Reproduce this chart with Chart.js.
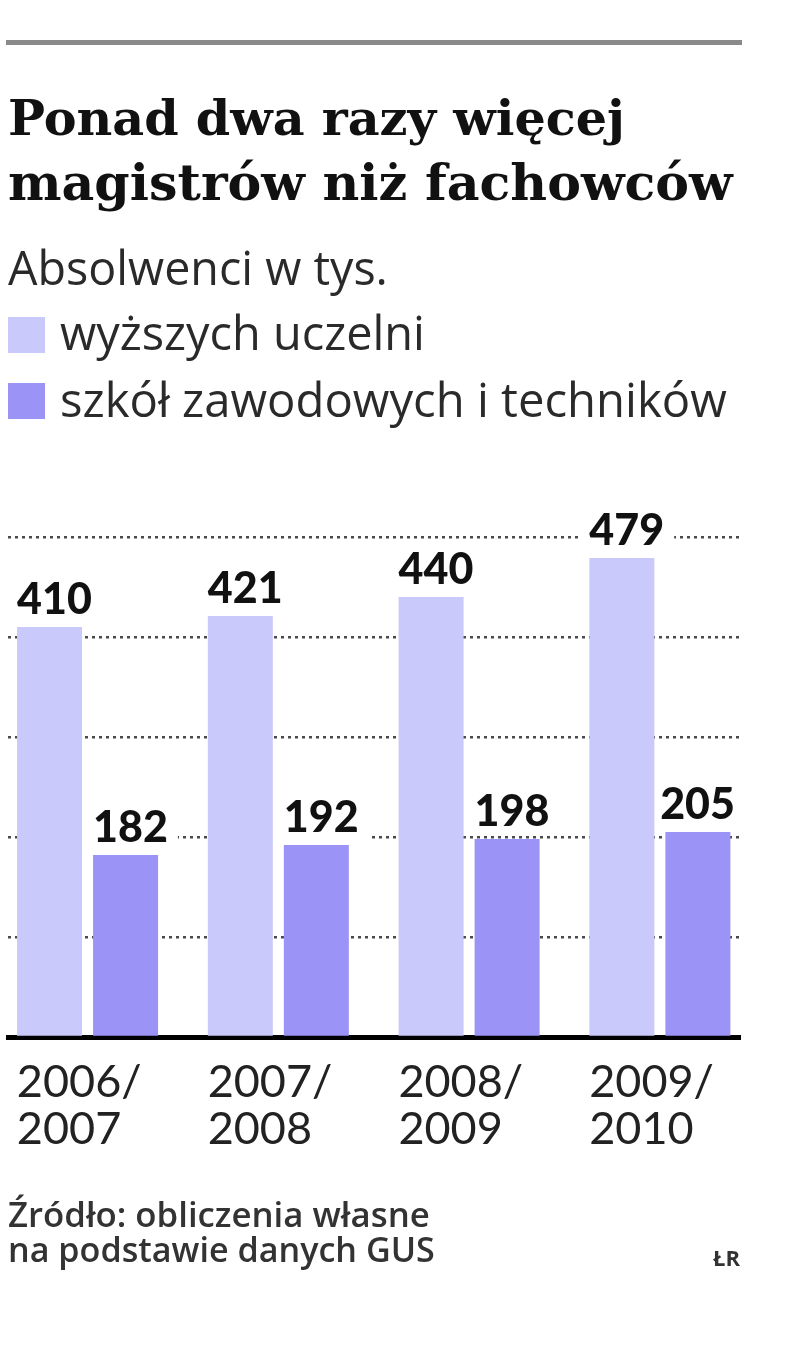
<!DOCTYPE html>
<html><head><meta charset="utf-8">
<script src="https://cdn.jsdelivr.net/npm/chart.js@4.4.0/dist/chart.umd.min.js"></script>
<style>
html,body{margin:0;padding:0;background:#fff;}
#wrap{position:relative;width:805px;height:1360px;overflow:hidden;background:#fff;}
#c{position:absolute;left:0;top:0;}
.t{position:absolute;white-space:nowrap;margin:0;padding:0;}
#rule{position:absolute;left:6px;top:40px;width:736px;height:5px;background:#8a8a8a;}
.sw{position:absolute;width:37px;height:36px;}
</style></head><body>
<div id="wrap">
<canvas id="c" width="805" height="1360"></canvas>
<div id="rule"></div>
<div class="t" id="title1"></div>
<div class="t" id="title2"></div>
<div class="t" id="sub"></div>
<div class="sw" id="sw0"></div>
<div class="sw" id="sw1"></div>
<div class="t" id="leg0"></div>
<div class="t" id="leg1"></div>
<div class="t" id="src1"></div>
<div class="t" id="src2"></div>
<div class="t" id="auth"></div>
</div>
<script>
// ---- data ----
const categories = [["2006/","2007"],["2007/","2008"],["2008/","2009"],["2009/","2010"]];
const seriesNames = ["wyższych uczelni","szkół zawodowych i techników"];
const higherEd = [410, 421, 440, 479];
const vocational = [182, 192, 198, 205];
const yTicks = [0, 100, 200, 300, 400, 500];
const seriesColors = ["#c9c9fb", "#9b93f6"];

const titleLines = ["Ponad dwa razy więcej", "magistrów niż fachowców"];
const subtitle = "Absolwenci w tys.";
const sourceLines = ["Źródło: obliczenia własne", "na podstawie danych GUS"];
const author = "ŁR";

// ---- text placement helpers ----
const mctx = document.createElement('canvas').getContext('2d');
function place(id, text, family, weight, color, x, baseY, targetW) {
  let size = 40;
  mctx.font = weight + ' ' + size + 'px ' + family;
  const w0 = mctx.measureText(text).width;
  size = size * targetW / w0;
  mctx.font = weight + ' ' + size + 'px ' + family;
  const m = mctx.measureText(text);
  const asc = m.fontBoundingBoxAscent, desc = m.fontBoundingBoxDescent;
  const el = document.getElementById(id);
  el.textContent = text;
  el.style.font = weight + ' ' + size + 'px ' + family;
  el.style.lineHeight = (asc + desc) + 'px';
  el.style.left = x + 'px';
  el.style.top = (baseY - asc) + 'px';
  el.style.color = color;
}
const serif = '"DejaVu Serif", serif';
const sans = '"Open Sans", sans-serif';
place('title1', titleLines[0], serif, 'bold', '#111', 8, 135, 617);
place('title2', titleLines[1], serif, 'bold', '#111', 8, 200, 725);
place('sub', subtitle, sans, 'normal', '#2a2a2a', 8, 285, 380);
place('leg0', seriesNames[0], sans, 'normal', '#2a2a2a', 60, 350, 365);
place('leg1', seriesNames[1], sans, 'normal', '#2a2a2a', 60, 417, 667);
place('src1', sourceLines[0], sans, '600', '#333', 8, 1227, 422);
place('src2', sourceLines[1], sans, '600', '#333', 8, 1262, 427);
place('auth', author, sans, '700', '#333', 713, 1266, 27);
const sw0 = document.getElementById('sw0'); sw0.style.left='8px'; sw0.style.top='317px'; sw0.style.background=seriesColors[0];
const sw1 = document.getElementById('sw1'); sw1.style.left='8px'; sw1.style.top='383px'; sw1.style.background=seriesColors[1];

// ---- value labels plugin ----
const labelFont = '900 43px "Lato", sans-serif';
function labelBoxes(chart) {
  const out = [];
  const right = chart.chartArea.right - 5;
  chart.data.datasets.forEach((ds, di) => {
    const meta = chart.getDatasetMeta(di);
    meta.data.forEach((bar, i) => {
      const text = String(ds.data[i].y);
      chart.ctx.font = labelFont;
      const w = chart.ctx.measureText(text).width;
      let x = bar.x - bar.width / 2;
      if (x + w > right) x = right - w;
      const y = bar.y - 13;
      out.push({text, x, y, w});
    });
  });
  return out;
}
const valueLabels = {
  id: 'valueLabels',
  beforeDatasetsDraw(chart) {
    const ctx = chart.ctx;
    ctx.save();
    ctx.fillStyle = '#fff';
    labelBoxes(chart).forEach(b => ctx.fillRect(b.x - 10, b.y - 36, b.w + 20, 44));
    ctx.restore();
  },
  afterDatasetsDraw(chart) {
    const ctx = chart.ctx;
    ctx.save();
    ctx.font = labelFont;
    ctx.fillStyle = '#111';
    ctx.textAlign = 'left';
    ctx.textBaseline = 'alphabetic';
    labelBoxes(chart).forEach(b => ctx.fillText(b.text, b.x, b.y));
    ctx.restore();
  }
};

const xPos = categories.map((_, i) => i);
new Chart(document.getElementById('c'), {
  type: 'bar',
  data: {
    datasets: [
      { label: seriesNames[0], data: higherEd.map((v, i) => ({x: xPos[i], y: v})), backgroundColor: seriesColors[0], categoryPercentage: 0.797, barPercentage: 0.855 },
      { label: seriesNames[1], data: vocational.map((v, i) => ({x: xPos[i], y: v})), backgroundColor: seriesColors[1], categoryPercentage: 0.797, barPercentage: 0.855 }
    ]
  },
  options: {
    responsive: false,
    animation: false,
    devicePixelRatio: 1,
    layout: { padding: { left: 8, right: 65, top: 537, bottom: 200 } },
    plugins: { legend: { display: false }, tooltip: { enabled: false } },
    scales: {
      x: {
        type: 'linear', min: -0.417, max: 3.42, offset: false,
        grid: { display: false, drawTicks: false, offset: false },
        border: { display: true, color: '#000', width: 5 },
        afterBuildTicks: s => { s.ticks = xPos.map(v => ({value: v})); },
        afterFit: s => { s.height = 123; s.paddingLeft = 0; s.paddingRight = 0; },
        ticks: {
          align: 'start', labelOffset: -70.7, padding: 22, color: '#222',
          font: { family: 'Lato', size: 45, lineHeight: 1.05 },
          autoSkip: false, maxRotation: 0, minRotation: 0,
          callback: (v, i) => categories[i]
        }
      },
      y: {
        min: 0, max: 500,
        afterBuildTicks: s => { s.ticks = yTicks.map(v => ({value: v})); },
        ticks: { display: false },
        grid: { color: '#4a4a4a', lineWidth: 2.5, drawTicks: false },
        border: { display: false, dash: [3, 4] }
      }
    }
  },
  plugins: [valueLabels]
});
</script>
</body></html>
